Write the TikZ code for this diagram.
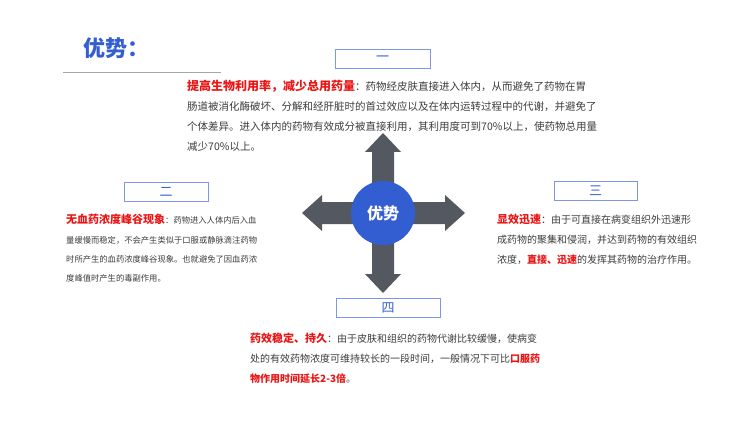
\documentclass[tikz,border=0pt]{standalone}
\usepackage{fontspec}
\setmainfont{Noto Sans CJK SC}
\usetikzlibrary{positioning}
\definecolor{titleblue}{RGB}{51,94,210}
\definecolor{arrowgray}{RGB}{84,88,96}
\definecolor{boxline}{RGB}{125,150,230}
\definecolor{keyred}{RGB}{235,20,20}
\definecolor{bodytext}{RGB}{60,60,60}
\XeTeXlinebreaklocale "zh"
\newcommand{\keyword}[1]{\textcolor{keyred}{\bfseries #1}}
\begin{document}
\begin{tikzpicture}
[x=1pt,y=-1pt,
numbox/.style={draw=boxline,line width=0.8pt,minimum width=#1,minimum height=19pt,inner sep=0pt,font=\fontsize{13}{13}\selectfont,text=titleblue},
desc/.style={anchor=north west,align=left,inner sep=0pt,text=bodytext},
bigarrow/.style={fill=arrowgray}]
\useasboundingbox (0,0) rectangle (750,433);
% title
\node[text=titleblue,font=\fontsize{22}{22}\selectfont\bfseries,anchor=west] (title) at (80,48) {优势：};
\draw[gray!70,line width=0.6pt] (63,72) -- (221,72);
% arrows
\fill[bigarrow] (372,213) -- (372,152) -- (365,152) -- (383,133) -- (401,152) -- (394,152) -- (394,213) -- cycle;
\fill[bigarrow] (372,213) -- (372,274) -- (365,274) -- (383,293) -- (401,274) -- (394,274) -- (394,213) -- cycle;
\fill[bigarrow] (383,202) -- (322,202) -- (322,195) -- (302,213) -- (322,231) -- (322,224) -- (383,224) -- cycle;
\fill[bigarrow] (383,202) -- (445,202) -- (445,195) -- (465,213) -- (445,231) -- (445,224) -- (383,224) -- cycle;
\node[circle,fill=titleblue,minimum size=64pt,inner sep=0pt,text=white,font=\fontsize{16}{16}\selectfont\bfseries] (core) at (383,213) {优势};
% number boxes
\node[numbox=95pt] (one) at (382.5,59) {一};
\node[numbox=84pt] (two) at (166,191.5) {二};
\node[numbox=83pt] (three) at (595.5,191) {三};
\node[numbox=104pt] (four) at (388,307.5) {四};
% texts
\node[desc,font=\fontsize{10.5}{20}\selectfont] (textone) at (187,80) {\keyword{\fontsize{12}{20}\selectfont 提高生物利用率，减少总用药量}：药物经皮肤直接进入体内，从而避免了药物在胃\\肠道被消化酶破坏、分解和经肝脏时的首过效应以及在体内运转过程中的代谢，并避免了\\个体差异。进入体内的药物有效成分被直接利用，其利用度可到70\%以上，使药物总用量\\减少70\%以上。};
\node[desc,font=\fontsize{8.3}{19.3}\selectfont] (texttwo) at (66,214) {\keyword{\fontsize{11}{19}\selectfont 无血药浓度峰谷现象}：药物进入人体内后入血\\量缓慢而稳定，不会产生类似于口服或静脉滴注药物\\时所产生的血药浓度峰谷现象。也就避免了因血药浓\\度峰值时产生的毒副作用。};
\node[desc,font=\fontsize{10}{20}\selectfont] (textthree) at (497,214) {\keyword{\fontsize{11}{20}\selectfont 显效迅速}：由于可直接在病变组织外迅速形\\成药物的聚集和侵润，并达到药物的有效组织\\浓度，\keyword{直接、迅速}的发挥其药物的治疗作用。};
\node[desc,font=\fontsize{10}{20}\selectfont] (textfour) at (250,333) {\keyword{\fontsize{11}{20}\selectfont 药效稳定、持久}：由于皮肤和组织的药物代谢比较缓慢，使病变\\处的有效药物浓度可维持较长的一段时间，一般情况下可比\keyword{口服药}\\\keyword{物作用时间延长2-3倍}。};
\end{tikzpicture}
\end{document}
